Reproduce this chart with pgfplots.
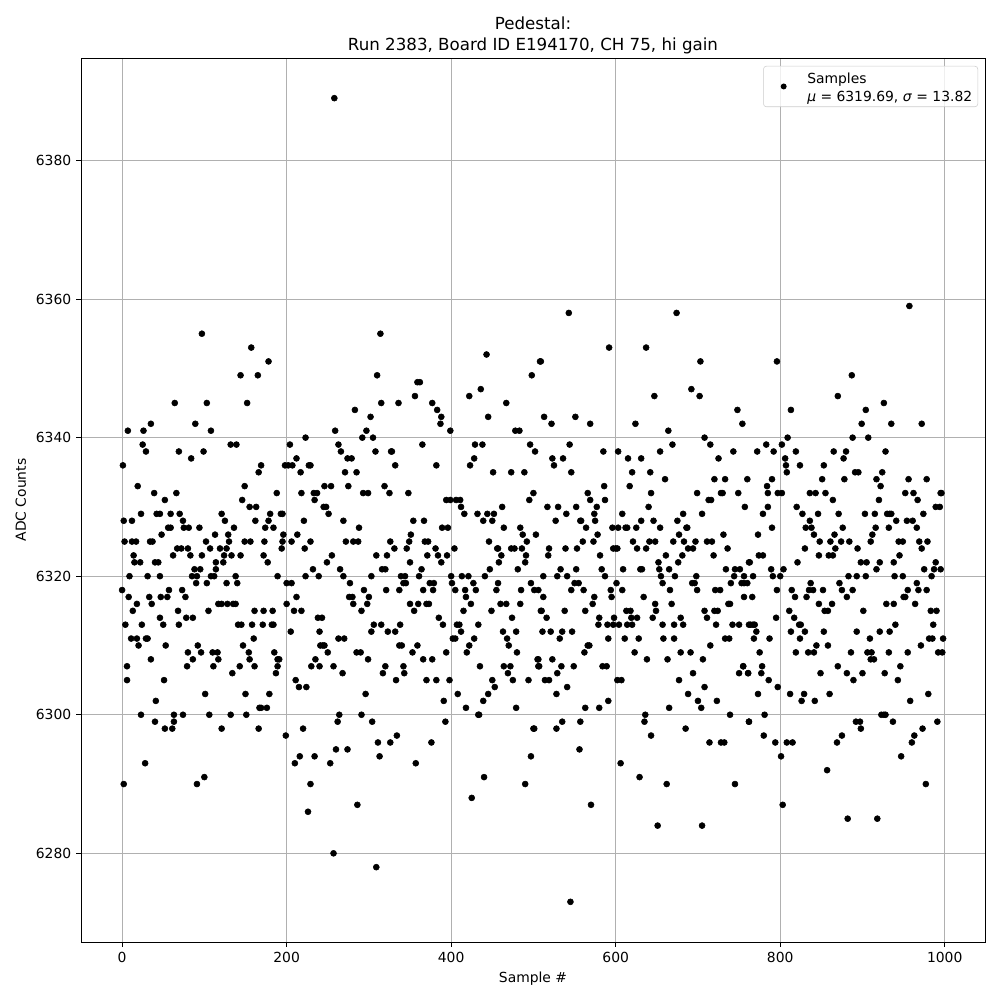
\documentclass[border=0pt]{standalone}
\usepackage{fontspec}
\setmainfont{DejaVu Sans}
\usepackage{pgfplots}
\pgfplotsset{compat=1.18}
\begin{document}
\begin{tikzpicture}[x=1bp,y=1bp]
\useasboundingbox (0,0) rectangle (720,720);
\begin{axis}[
  at={(58.32bp,41.76bp)}, anchor=south west,
  scale only axis, width=650.88bp, height=636.48bp,
  xmin=-49.95, xmax=1048.95, ymin=6267.2, ymax=6394.8,
  xtick={0,200,400,600,800,1000},
  ytick={6280,6300,6320,6340,6360,6380},
  /pgf/number format/assume math mode=true,
  /pgf/number format/fixed, /pgf/number format/1000 sep={},
  tick align=outside, tick pos=left,
  major tick length=3.5bp,
  tick style={black, line width=0.6bp},
  axis line style={black, line width=0.6bp},
  grid=major, grid style={color={rgb,255:red,176;green,176;blue,176}, line width=0.7bp},
  tick label style={font=\fontsize{10bp}{12bp}\selectfont},
  label style={font=\fontsize{10bp}{12bp}\selectfont},
  xlabel={Sample \#}, ylabel={ADC Counts},
  xlabel style={at={(axis description cs:0.5,0)}, anchor=north, yshift=-18bp},
  ylabel style={at={(axis description cs:0,0.5)}, anchor=south, yshift=36bp},
  title style={font=\fontsize{12bp}{15.2bp}\selectfont, align=center, at={(axis description cs:0.5,1)}, anchor=south, yshift=-6.7bp},
  title={Pedestal:\\Run 2383, Board ID E194170, CH 75, hi gain},
  legend style={at={(axis description cs:0.9923,0.9910)}, anchor=north east,
    draw={rgb,255:red,204;green,204;blue,204}, rounded corners=2bp, fill=white, fill opacity=0.8, text opacity=1,
    font=\fontsize{10bp}{13bp}\selectfont, inner xsep=2bp, inner ysep=1.2bp},
  legend cell align=left,
]
\addplot[only marks, mark=*, mark size=2.15bp, color=black, mark options={draw=none, fill=black},
  legend image code/.code={\path[draw=none] (0bp,0bp) -- (27.5bp,0bp); \fill[black,draw=none,fill opacity=1] (12.5bp,0bp) circle (2.15bp);}] coordinates {
(258,6389)(97,6355)(157,6353)(178,6351)(144,6349)(165,6349)(64,6345)(103,6345)(152,6345)(35,6342)(89,6342)
(7,6341)(26,6341)(108,6341)(223,6340)(25,6339)(132,6339)(139,6339)(204,6339)(29,6338)(69,6338)(99,6338)
(84,6337)(212,6337)(1,6336)(169,6336)(198,6336)(202,6336)(207,6336)(227,6336)(229,6336)(166,6335)(217,6335)
(19,6333)(149,6333)(246,6333)(254,6333)(39,6332)(66,6332)(188,6332)(218,6332)(233,6332)(237,6332)
(52,6331)(146,6331)(234,6331)(155,6330)(163,6330)(245,6330)(248,6330)
(23,6329)(42,6329)(46,6329)(59,6329)(70,6329)(121,6329)(180,6329)(193,6329)(195,6329)(251,6329)
(2,6328)(12,6328)(74,6328)(125,6328)(162,6328)(178,6328)(221,6328)
(56,6327)(59,6327)(75,6327)(81,6327)(94,6327)(136,6327)(174,6327)(184,6327)
(48,6326)(113,6326)(129,6326)(196,6326)(213,6326)
(3,6325)(12,6325)(17,6325)(34,6325)(37,6325)(102,6325)(130,6325)(149,6325)(156,6325)(173,6325)(195,6325)(206,6325)(229,6325)
(67,6324)(72,6324)(80,6324)(107,6324)(119,6324)(127,6324)(194,6324)(222,6324)
(14,6323)(62,6323)(83,6323)(97,6323)(124,6323)(133,6323)(144,6323)(172,6323)
(15,6322)(22,6322)(40,6322)(44,6322)(114,6322)(123,6322)(177,6322)(249,6322)
(88,6321)(95,6321)(114,6321)(232,6321)
(9,6320)(31,6320)(46,6320)(85,6320)(91,6320)(108,6320)(112,6320)(138,6320)(189,6320)(223,6320)(239,6320)
(90,6319)(103,6319)(127,6319)(140,6319)(200,6319)(206,6319)
(0,6318)(57,6318)(73,6318)
(8,6317)(33,6317)(47,6317)(55,6317)(77,6317)(212,6317)
(18,6316)(36,6316)(117,6316)(121,6316)(128,6316)(135,6316)(138,6316)(200,6316)
(13,6315)(68,6315)(105,6315)(161,6315)(172,6315)(183,6315)(209,6315)(218,6315)
(46,6314)(78,6314)(86,6314)(238,6314)(243,6314)
(4,6313)(24,6313)(50,6313)(69,6313)(141,6313)(145,6313)(158,6313)(171,6313)(182,6313)(184,6313)
(205,6312)(240,6312)
(11,6311)(18,6311)(29,6311)(31,6311)(160,6311)
(20,6310)(53,6310)(92,6310)(147,6310)(241,6310)(244,6310)(246,6310)
(80,6309)(96,6309)(110,6309)(116,6309)(154,6309)(185,6309)(250,6309)
(35,6308)(86,6308)(117,6308)(155,6308)(189,6308)(191,6308)(235,6308)
(6,6307)(79,6307)(111,6307)(143,6307)(161,6307)(189,6307)(230,6307)(240,6307)
(134,6306)(187,6306)
(6,6305)(51,6305)(211,6305)(215,6304)(224,6304)
(101,6303)(150,6303)(179,6303)(41,6302)(167,6301)(169,6301)(176,6301)
(23,6300)(63,6300)(74,6300)(106,6300)(132,6300)(151,6300)
(40,6299)(63,6299)(52,6298)(61,6298)(121,6298)(166,6298)(220,6298)(199,6297)
(216,6294)(234,6294)(28,6293)(210,6293)(253,6293)(100,6291)(2,6290)(91,6290)(229,6290)(226,6286)
(314,6355)(443,6352)(508,6351)(310,6349)(498,6349)(359,6348)(362,6348)(436,6347)(356,6346)(422,6346)
(315,6345)(336,6345)(377,6345)(467,6345)(283,6344)(383,6344)(302,6343)(388,6343)(445,6343)(387,6342)
(259,6341)(297,6341)(399,6341)(478,6341)(483,6341)(292,6340)(305,6340)
(263,6339)(365,6339)(429,6339)(438,6339)(496,6339)(266,6338)(308,6338)(327,6338)(328,6338)(502,6338)
(274,6337)(279,6337)(428,6337)(332,6336)(382,6336)(423,6336)
(271,6335)(285,6335)(451,6335)(473,6335)(489,6335)(275,6333)(319,6333)
(293,6332)(299,6332)(325,6332)(348,6332)(500,6332)(394,6331)(399,6331)(406,6331)(411,6331)(495,6331)
(412,6330)(462,6330)(416,6329)(432,6329)(444,6329)(452,6329)
(269,6328)(354,6328)(367,6328)(439,6328)(450,6328)
(288,6327)(389,6327)(396,6327)(464,6327)(484,6327)
(351,6326)(487,6326)(503,6326)
(272,6325)(281,6325)(287,6325)(326,6325)(349,6325)(368,6325)(372,6325)(446,6325)(492,6325)
(331,6324)(346,6324)(381,6324)(404,6324)(456,6324)(457,6324)(473,6324)(477,6324)(486,6324)
(255,6323)(309,6323)(322,6323)(371,6323)(384,6323)(395,6323)(461,6323)(491,6323)
(350,6322)(388,6322)(458,6322)(490,6322)
(265,6321)(316,6321)(320,6321)(364,6321)(447,6321)(481,6321)
(269,6320)(303,6320)(339,6320)(344,6320)(361,6320)(400,6320)(413,6320)(421,6320)(441,6320)
(277,6319)(342,6319)(345,6319)(374,6319)(379,6319)(401,6319)(427,6319)(457,6319)(497,6319)
(294,6318)(321,6318)(337,6318)(366,6318)(378,6318)(405,6318)(417,6318)(430,6318)(455,6318)(485,6318)(501,6318)(506,6318)
(276,6317)(280,6317)(300,6317)(418,6317)
(281,6316)(298,6316)(350,6316)(360,6316)(370,6316)(373,6316)(424,6316)(460,6316)(467,6316)(484,6316)
(291,6315)(355,6315)(415,6315)(449,6315)(509,6315)(385,6314)(474,6314)
(306,6313)(315,6313)(338,6313)(390,6313)(407,6313)(410,6313)(433,6313)
(303,6312)(323,6312)(332,6312)(412,6312)(463,6312)(479,6312)
(263,6311)(270,6311)(402,6311)(405,6311)(428,6311)(468,6311)
(337,6310)(340,6310)(359,6310)(422,6310)(470,6310)
(285,6309)(290,6309)(353,6309)(394,6309)(419,6309)(480,6309)
(299,6308)(366,6308)(377,6308)(506,6308)
(257,6307)(320,6307)(342,6307)(435,6307)(464,6307)(472,6307)(507,6307)
(268,6306)(317,6306)(343,6306)(469,6306)
(333,6305)(370,6305)(382,6305)(398,6305)(450,6305)(475,6305)(494,6305)
(453,6304)(296,6303)(408,6303)(445,6303)(391,6302)(439,6302)(418,6301)(479,6301)
(264,6300)(291,6300)(433,6300)(434,6300)(262,6299)(304,6299)(393,6299)(501,6298)(334,6297)
(311,6296)(326,6296)(376,6296)(260,6295)(274,6295)(313,6294)(497,6294)(357,6293)(440,6291)(490,6290)(425,6288)(286,6287)(257,6280)(309,6278)
(543,6358)(674,6358)(592,6353)(637,6353)(509,6351)(703,6351)(692,6347)(647,6346)(702,6346)(748,6344)
(513,6343)(551,6343)(522,6342)(569,6342)(624,6342)(754,6342)(664,6341)(708,6340)(544,6339)(669,6339)(715,6339)
(585,6338)(603,6338)(654,6338)(743,6338)(523,6337)(536,6337)(615,6337)(631,6337)(725,6337)(525,6336)
(546,6335)(620,6335)(642,6335)(660,6334)(720,6334)(733,6334)(760,6334)(586,6333)(617,6333)
(566,6332)(643,6332)(699,6332)(728,6332)(730,6332)(749,6332)(569,6331)(587,6331)(713,6331)(716,6331)
(517,6330)(530,6330)(552,6330)(577,6330)(640,6330)(757,6330)(540,6329)(574,6329)(608,6329)(682,6329)(705,6329)
(527,6328)(557,6328)(558,6328)(575,6328)(631,6328)(646,6328)(675,6328)
(564,6327)(596,6327)(603,6327)(612,6327)(614,6327)(625,6327)(654,6327)(686,6327)(687,6327)
(578,6326)(677,6326)(731,6326)
(560,6325)(573,6325)(621,6325)(641,6325)(648,6325)(670,6325)(683,6325)(697,6325)(711,6325)(717,6325)
(519,6324)(539,6324)(553,6324)(597,6324)(600,6324)(602,6324)(626,6324)(637,6324)(688,6324)(694,6324)(736,6324)
(518,6323)(581,6323)(661,6323)(681,6323)(719,6323)(652,6322)(676,6322)(762,6322)
(533,6321)(552,6321)(583,6321)(609,6321)(630,6321)(632,6321)(653,6321)(665,6321)(734,6321)(745,6321)(751,6321)
(512,6320)(529,6320)(541,6320)(587,6320)(655,6320)(672,6320)(698,6320)(744,6320)(756,6320)
(550,6319)(555,6319)(601,6319)(657,6319)(693,6319)(696,6319)(740,6319)(753,6319)(760,6319)(756,6319)
(546,6318)(561,6318)(594,6318)(608,6318)(666,6318)(699,6318)(721,6318)(727,6318)
(512,6317)(574,6317)(595,6317)(634,6317)(756,6317)(572,6316)(648,6316)(668,6316)(737,6316)(739,6316)
(510,6315)(538,6315)(563,6315)(613,6315)(618,6315)(649,6315)(708,6315)(720,6315)(724,6315)
(516,6314)(580,6314)(598,6314)(619,6314)(626,6314)(645,6314)(679,6314)(711,6314)
(579,6313)(590,6313)(597,6313)(604,6313)(614,6313)(620,6313)(657,6313)(671,6313)(682,6313)(722,6313)(742,6313)(750,6313)(762,6313)
(511,6312)(521,6312)(535,6312)(547,6312)
(532,6311)(591,6311)(611,6311)(628,6311)(658,6311)(671,6311)(733,6311)(738,6311)
(566,6310)(568,6310)(715,6310)(562,6309)(623,6309)(679,6309)(691,6309)
(505,6308)(523,6308)(638,6308)(663,6308)(706,6308)
(506,6307)(534,6307)(549,6307)(584,6307)(589,6307)(755,6307)
(529,6306)(694,6306)(750,6306)(761,6306)
(514,6305)(519,6305)(602,6305)(607,6305)(677,6305)(541,6304)(708,6304)(528,6303)(688,6303)
(591,6302)(700,6302)(723,6302)(563,6301)(580,6301)(665,6301)(704,6301)(636,6300)(739,6300)
(535,6299)(557,6299)(635,6299)(762,6299)(500,6298)(528,6298)(685,6298)(643,6297)
(714,6296)(728,6296)(732,6296)(556,6295)(606,6293)(629,6291)(662,6290)(745,6290)(570,6287)(651,6284)(705,6284)(545,6273)
(957,6359)(796,6351)(887,6349)(870,6346)(926,6345)(813,6344)(904,6344)(899,6342)(935,6342)(972,6342)
(809,6340)(888,6340)(907,6340)(783,6339)(802,6339)(772,6338)(792,6338)(819,6338)(865,6338)(880,6338)(928,6338)
(806,6337)(877,6337)(807,6336)(824,6336)(853,6336)(808,6335)(891,6335)(895,6335)(924,6335)
(790,6334)(851,6334)(878,6334)(917,6334)(956,6334)(978,6334)(784,6333)(922,6333)
(785,6332)(797,6332)(802,6332)(836,6332)(843,6332)(855,6332)(952,6332)(962,6332)(995,6332)(996,6332)
(864,6331)(920,6331)(967,6331)(785,6330)(820,6330)(989,6330)(994,6330)
(779,6329)(827,6329)(846,6329)(871,6329)(903,6329)(915,6329)(930,6329)(933,6329)(935,6329)(974,6329)
(836,6328)(941,6328)(954,6328)(961,6328)
(790,6327)(831,6327)(838,6327)(876,6327)(916,6327)(932,6327)(966,6327)
(773,6326)(841,6326)(866,6326)(912,6326)
(848,6325)(861,6325)(874,6325)(884,6325)(910,6325)(944,6325)(949,6325)(969,6325)(979,6325)
(830,6324)(867,6324)(894,6324)(972,6324)
(774,6323)(779,6323)(847,6323)(859,6323)(864,6323)(945,6323)
(763,6322)(821,6322)(898,6322)(905,6322)(921,6322)(938,6322)(989,6322)
(789,6321)(804,6321)(917,6321)(975,6321)(987,6321)(995,6321)
(767,6320)(791,6320)(800,6320)(883,6320)(893,6320)(904,6320)(939,6320)(949,6320)(984,6320)
(837,6319)(872,6319)(966,6319)
(796,6318)(814,6318)(835,6318)(840,6318)(852,6318)(875,6318)(888,6318)(955,6318)(968,6318)(978,6318)
(766,6317)(818,6317)(832,6317)(881,6317)(950,6317)(952,6317)
(847,6316)(863,6316)(929,6316)(938,6316)(964,6316)
(811,6315)(854,6315)(858,6315)(901,6315)(983,6315)(990,6315)(795,6314)(817,6314)
(764,6313)(767,6313)(769,6313)(823,6313)(825,6313)(940,6313)(986,6313)
(771,6312)(813,6312)(830,6312)(853,6312)(893,6312)(921,6312)(933,6312)
(768,6311)(787,6311)(824,6311)(909,6311)(981,6311)(985,6311)(998,6311)
(844,6310)(858,6310)(971,6310)
(775,6309)(819,6309)(834,6309)(841,6309)(886,6309)(906,6309)(911,6309)(932,6309)(955,6309)(992,6309)(997,6309)
(910,6308)(914,6308)(755,6307)(778,6307)(870,6307)(946,6307)
(761,6306)(777,6306)(849,6306)(881,6306)(900,6306)(927,6306)(786,6305)(889,6305)(943,6305)(797,6304)
(773,6303)(812,6303)(829,6303)(860,6303)(980,6303)(826,6302)(842,6302)(958,6302)
(781,6300)(923,6300)(926,6300)(928,6300)(762,6299)(892,6299)(897,6299)(937,6299)(991,6299)
(898,6298)(973,6298)(780,6297)(875,6297)(963,6297)(794,6296)(808,6296)(815,6296)(869,6296)(960,6296)
(801,6294)(947,6294)(857,6292)(977,6290)(803,6287)(882,6285)(918,6285)
};
\addlegendentry{\begin{tabular}{@{}l@{}}Samples\\\textit{μ} = 6319.69, \textit{σ} = 13.82\rule[-15.5bp]{0pt}{1bp}\end{tabular}}
\end{axis}
\end{tikzpicture}
\end{document}
